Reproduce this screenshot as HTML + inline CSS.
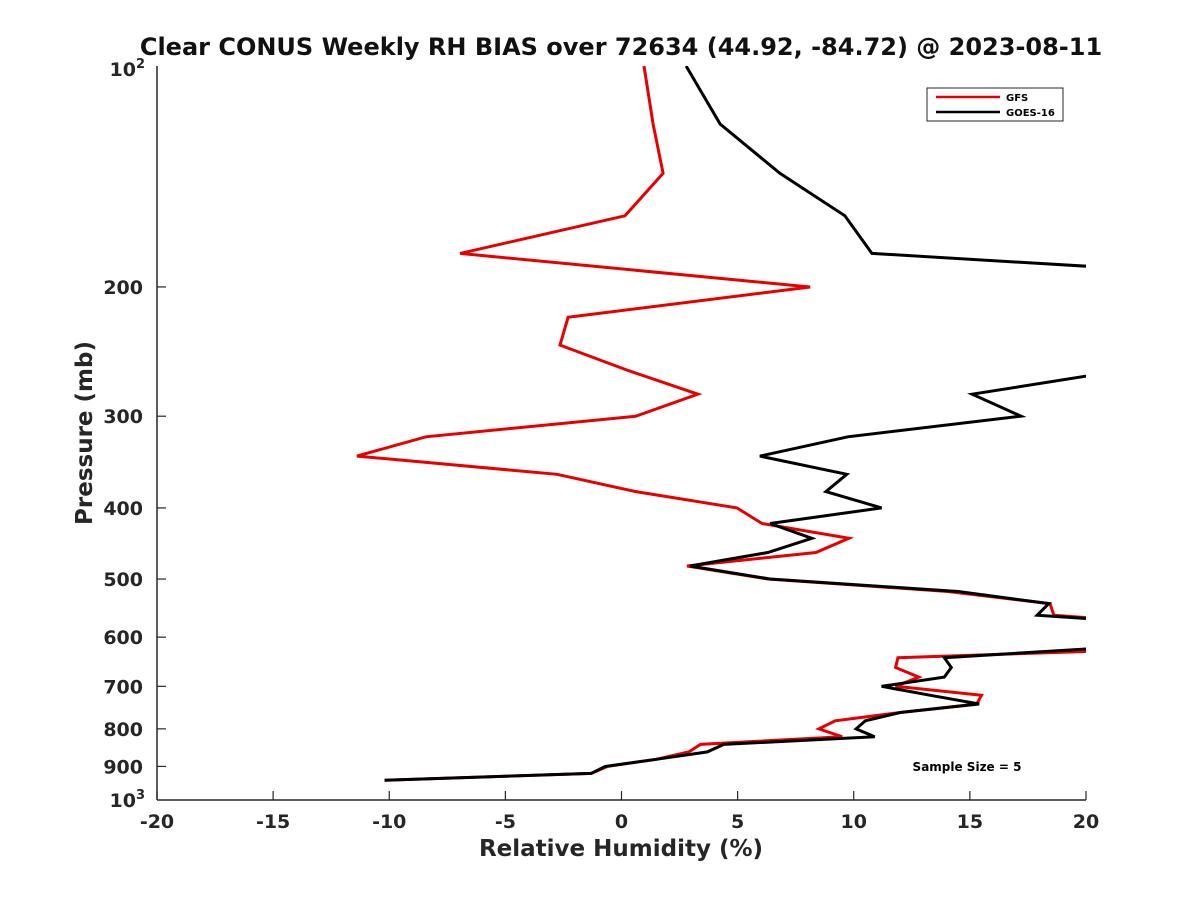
<!DOCTYPE html>
<html><head><meta charset="utf-8"><style>
html,body{margin:0;padding:0;background:#fff;}
svg{display:block;font-family:"DejaVu Sans","Liberation Sans",sans-serif;}
</style></head><body>
<svg id="chart" width="1200" height="900" viewBox="0 0 1200 900">
<rect width="1200" height="900" fill="#fff"/>
<defs><clipPath id="clip"><rect x="157" y="66" width="929" height="734"/></clipPath></defs>
<text x="621" y="55" text-anchor="middle" font-size="24" font-weight="bold" fill="#111">Clear CONUS Weekly RH BIAS over 72634 (44.92, -84.72) @ 2023-08-11</text>
<g id="axes"></g>
<g id="series" clip-path="url(#clip)"></g>
<text x="621" y="856" text-anchor="middle" font-size="23" font-weight="bold" fill="#262626">Relative Humidity (%)</text>
<text transform="translate(92,433) rotate(-90)" text-anchor="middle" font-size="23" font-weight="bold" fill="#262626">Pressure (mb)</text>
<text x="967" y="771" text-anchor="middle" font-size="12" font-weight="bold" fill="#000">Sample Size = 5</text>
<g>
<rect x="927" y="88" width="136" height="33" fill="#fff" stroke="#262626" stroke-width="1"/>
<line x1="936" y1="97" x2="1000" y2="97" stroke="#e60000" stroke-width="2.5"/>
<text x="1006" y="101" font-size="10" font-weight="bold">GFS</text>
<line x1="936" y1="112" x2="1000" y2="112" stroke="#000" stroke-width="2.5"/>
<text x="1006" y="116" font-size="10" font-weight="bold">GOES-16</text>
</g>
</svg>
<script>
const pressures = [100,120,140,160,180,200,220,240,260,280,300,320,340,360,380,400,420,440,460,480,500,520,540,560,580,600,620,640,660,680,700,720,740,760,780,800,820,840,860,880,900,920,940];
const gfsValues = [0.97,1.36,1.79,0.15,-6.95,8.12,-2.3,-2.65,0.3,3.29,0.62,-8.42,-11.39,-2.78,0.62,4.97,6.05,9.79,8.37,2.82,6.3,14.06,18.45,18.62,25,25,25,11.9,11.8,12.8,11.8,15.5,15.3,12.0,9.2,8.5,9.5,3.4,2.9,1.5,-0.6,-1.3,-10.2];
const goesValues = [2.78,4.25,6.82,9.62,10.78,35,35,30,21.5,15.1,17.2,9.75,5.96,9.7,8.8,11.2,6.4,8.2,6.3,2.95,6.4,14.5,18.4,17.9,25,25,21,13.9,14.2,13.9,11.2,13.3,15.4,12.0,10.5,10.1,10.9,4.4,3.7,1.5,-0.7,-1.3,-10.2];
const xTicks = [-20,-15,-10,-5,0,5,10,15,20];
const yTicks = [200,300,400,500,600,700,800,900];
const NS = "http://www.w3.org/2000/svg";
const X0=157,X1=1086,Y0=66,Y1=800;
function xs(v){return X0+(v+20)/40*(X1-X0);}
function ys(p){return Y0+Math.log10(p/100)*(Y1-Y0);}
function mk(tag,attrs,parent){const e=document.createElementNS(NS,tag);for(const k in attrs)e.setAttribute(k,attrs[k]);parent.appendChild(e);return e;}
const axes=document.getElementById('axes');
const xa=mk('line',{x1:X0,y1:Y1,x2:X1,y2:Y1,stroke:'#262626','stroke-width':1.5},axes);


const ya=mk('line',{x1:X0,y1:Y0,x2:X0,y2:Y1,stroke:'#262626','stroke-width':1.5},axes);


xTicks.forEach(v=>{
  mk('line',{x1:xs(v),y1:Y1,x2:xs(v),y2:Y1-9,stroke:'#262626','stroke-width':1.2},axes);
  const t=mk('text',{x:xs(v),y:Y1+28,'text-anchor':'middle','font-size':19,'font-weight':'bold',fill:'#262626'},axes);
  
  
  t.textContent=v;
});
yTicks.forEach(p=>{
  mk('line',{x1:X0,y1:ys(p),x2:X0+9,y2:ys(p),stroke:'#262626','stroke-width':1.2},axes);
  const t=mk('text',{x:X0-14,y:ys(p)+7,'text-anchor':'end','font-size':19,'font-weight':'bold',fill:'#262626'},axes);
  
  
  t.textContent=p;
});
[[100,'2'],[1000,'3']].forEach(([p,e])=>{
  const t=mk('text',{x:X0-12,y:ys(p)+(p===100?10:7),'text-anchor':'end','font-size':19,'font-weight':'bold',fill:'#262626'},axes);
  
  
  t.textContent='10';
  const s=mk('tspan',{dy:-8,'font-size':13},t);
  s.textContent=e;
});
const series=document.getElementById('series');
function draw(vals,color,name){
  const d=vals.map((v,i)=>(i?'L':'M')+xs(v).toFixed(1)+','+ys(pressures[i]).toFixed(1)).join(' ');
  const p=mk('path',{d:d,fill:'none',stroke:color,'stroke-width':3,'stroke-linejoin':'miter'},series);
  
  
}
draw(gfsValues,'#e60000','gfs-line');
draw(goesValues,'#000','goes16-line');
</script>
</body></html>
